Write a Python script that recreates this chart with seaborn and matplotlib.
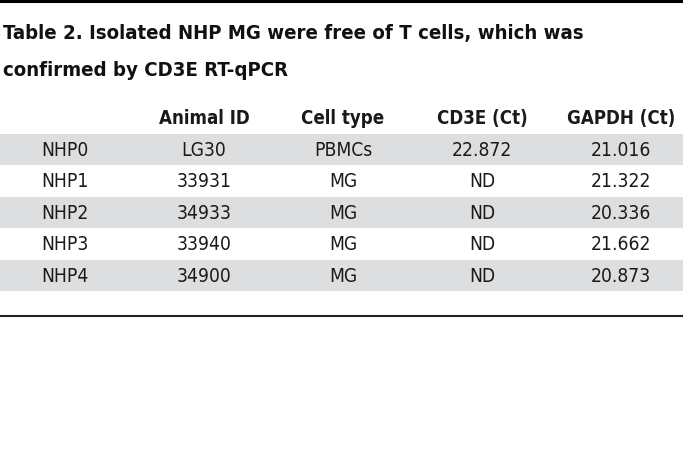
import numpy as np
import pandas as pd
import matplotlib
matplotlib.use("Agg")
import matplotlib.pyplot as plt
from matplotlib.colors import ListedColormap
from matplotlib import font_manager
from matplotlib.font_manager import FontProperties
import seaborn as sns

# Table contents
columns = ["", "Animal ID", "Cell type", "CD3E (Ct)", "GAPDH (Ct)"]
animals = ["NHP0", "NHP1", "NHP2", "NHP3", "NHP4"]
animal_ids = ["LG30", "33931", "34933", "33940", "34900"]
cell_types = ["PBMCs", "MG", "MG", "MG", "MG"]
cd3e_ct = ["22.872", "ND", "ND", "ND", "ND"]
gapdh_ct = ["21.016", "21.322", "20.336", "21.662", "20.873"]

title = "Table 2. Isolated NHP MG were free of T cells, which was\nconfirmed by CD3E RT-qPCR"

sns.set_theme(style="white")
plt.rcParams["font.family"] = ["DejaVu Sans"]


def find_narrow(bold):
    # look for a condensed / narrow sans face among installed fonts
    cands = []
    for f in font_manager.fontManager.ttflist:
        fn = f.fname.lower()
        if ("condensed" in fn or "narrow" in fn) and "mono" not in fn and "serif" not in fn \
                and "oblique" not in fn and "italic" not in fn:
            isbold = f.weight in ("bold", 700) or "bold" in fn
            if isbold == bold:
                cands.append(f.fname)
    cands.sort(key=lambda s: (0 if "dejavu" in s.lower() else 1, s))
    return cands[0] if cands else None


reg_file = find_narrow(False)
bold_file = find_narrow(True)
if reg_file and bold_file:
    fp_reg = FontProperties(fname=reg_file)
    fp_bold = FontProperties(fname=bold_file)
    scale = 1.0
else:
    fp_reg = FontProperties(family="DejaVu Sans")
    fp_bold = FontProperties(family="DejaVu Sans", weight="bold")
    scale = 0.8

df = pd.DataFrame({columns[0]: animals, columns[1]: animal_ids,
                   columns[2]: cell_types, columns[3]: cd3e_ct,
                   columns[4]: gapdh_ct})
# zebra stripes: shaded on even rows
stripes = np.array([[1 - i % 2] * len(columns) for i in range(len(df))])

fig = plt.figure(figsize=(6.83, 4.52), dpi=100)
ax = fig.add_axes([0, 0, 1, 1])
sns.heatmap(stripes, ax=ax, cmap=ListedColormap(["white", "#dddee0"]),
            annot=df.values, fmt="", cbar=False, xticklabels=False,
            yticklabels=False, vmin=0, vmax=1,
            annot_kws={"fontproperties": fp_reg, "fontsize": 13.8 * scale,
                       "color": "#1a1a1a"})

# pixel layout -> data coords (column width 139px, row height 31.5px)
W, H = 683, 452
x0, cw = -4.5, 139.0
y0, rh = 134.5, 31.5
ax.set_xlim(-x0 / cw, (W - x0) / cw)
ax.set_ylim((H - y0) / rh, -y0 / rh)
ax.axis("off")


def py(p):
    return (p - y0) / rh


for j, name in enumerate(columns):
    ax.text(j + 0.5, py(119), name, ha="center", va="center",
            fontproperties=fp_bold, fontsize=13.4 * scale, color="#1a1a1a")

ax.axhline(py(1.5), color="black", lw=2.2)
ax.axhline(py(317), color="#222222", lw=1.5)

fig.text(3 / W, 1 - 24 / H, title, ha="left", va="top", fontproperties=fp_bold,
         fontsize=14.6 * scale, color="#111111", linespacing=2.2)

fig.savefig("out.png", dpi=100)
